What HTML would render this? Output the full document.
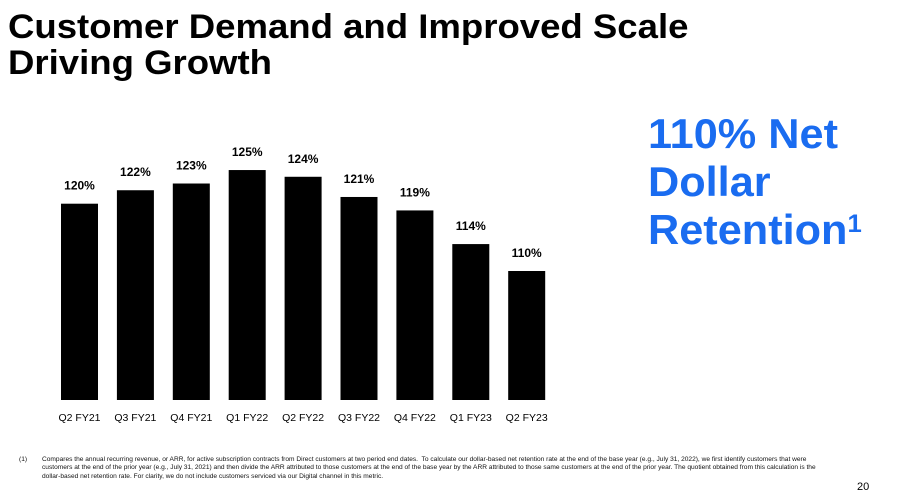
<!DOCTYPE html>
<html><head><meta charset="utf-8"><style>
body{margin:0;width:908px;height:486px;background:#fff;overflow:hidden;position:relative;font-family:"Liberation Sans",sans-serif}
#title{position:absolute;left:8px;top:9px;font-size:34px;font-weight:bold;line-height:36px;color:#000;transform:scaleX(1.075);transform-origin:left}
#ndr{position:absolute;left:648px;top:110px;font-size:42px;font-weight:bold;line-height:48px;color:#1a6cf0;transform:scaleX(1.03);transform-origin:left}
#ndr sup{font-size:25px;vertical-align:top;position:relative;top:-6px}
#foot{position:absolute;left:19px;top:456px;font-size:6.6px;line-height:8.4px;color:#111;width:800px}
#foot .n{position:absolute;left:0}
#foot .t{margin-left:23px;display:block}
#pg{position:absolute;left:857px;top:481px;font-size:11px}
</style></head><body>
<div id="title">Customer Demand and Improved Scale<br>Driving Growth</div>
<div id="ndr">110% Net<br>Dollar<br>Retention<sup>1</sup></div>
<svg id="chart" width="908" height="486" style="position:absolute;left:0;top:0"></svg>
<div id="foot"><span class="n">(1)</span><span class="t">Compares the annual recurring revenue, or ARR, for active subscription contracts from Direct customers at two period end dates.&nbsp; To calculate our dollar-based net retention rate at the end of the base year (e.g., July 31, 2022), we first identify customers that were customers at the end of the prior year (e.g., July 31, 2021) and then divide the ARR attributed to those customers at the end of the base year by the ARR attributed to those same customers at the end of the prior year. The quotient obtained from this calculation is the dollar-based net retention rate. For clarity, we do not include customers serviced via our Digital channel in this metric.</span></div>
<div id="pg">20</div>
<script>
const categories=["Q2 FY21","Q3 FY21","Q4 FY21","Q1 FY22","Q2 FY22","Q3 FY22","Q4 FY22","Q1 FY23","Q2 FY23"];
const values=[120,122,123,125,124,121,119,114,110];
const labels=["120%","122%","123%","125%","124%","121%","119%","114%","110%"];
const svg=document.getElementById('chart');
const NS='http://www.w3.org/2000/svg';
const baseY=400, pxPer=6.73, baseV=110-(400-271)/6.73;
function y(v){return baseY-(v-baseV)*pxPer;}
function x(i){return 61+i*55.9;}
const bw=37;
categories.forEach((c,i)=>{
 const r=document.createElementNS(NS,'rect');
 r.setAttribute('x',x(i));r.setAttribute('y',y(values[i]));
 r.setAttribute('width',bw);r.setAttribute('height',baseY-y(values[i]));
 r.setAttribute('fill','#000');
 
 
 svg.appendChild(r);
 const t=document.createElementNS(NS,'text');
 t.setAttribute('x',x(i)+bw/2);t.setAttribute('y',y(values[i])-14);
 t.setAttribute('text-anchor','middle');t.setAttribute('font-size','12');t.setAttribute('font-weight','bold');
 t.textContent=labels[i];
 
 
 svg.appendChild(t);
 const l=document.createElementNS(NS,'text');
 l.setAttribute('x',x(i)+bw/2);l.setAttribute('y',421);
 l.setAttribute('text-anchor','middle');l.setAttribute('font-size','10.5');
 l.textContent=c;
 
 
 svg.appendChild(l);
});
</script>
</body></html>
